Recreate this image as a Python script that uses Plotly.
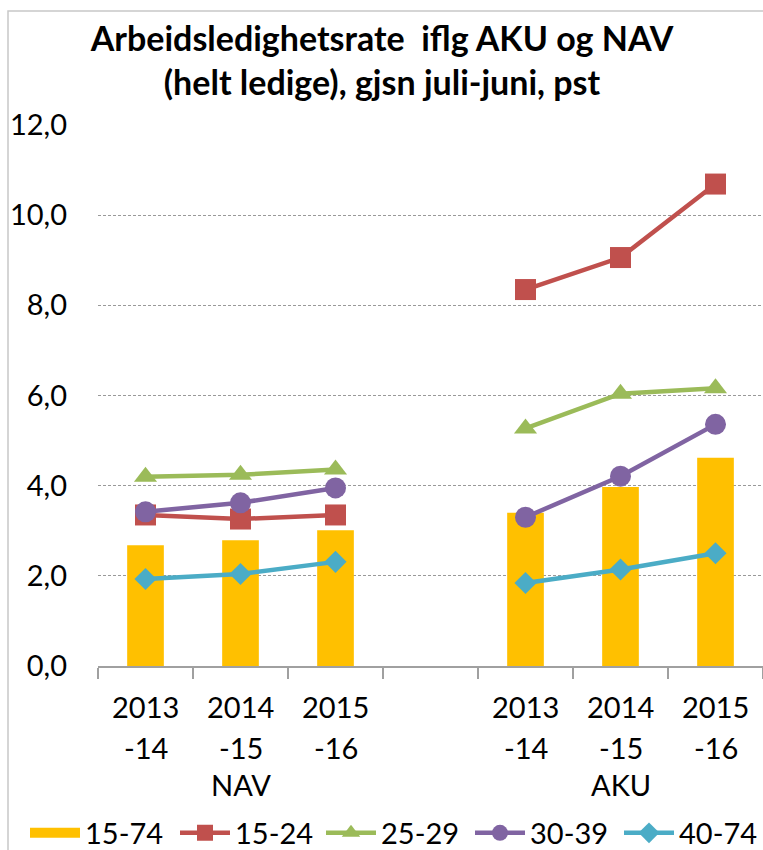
import plotly.graph_objects as go

groups = ["NAV", "", "AKU"]
group_pos = [1, 3, 5]
period_top = ["2013", "2014", "2015", "", "2013", "2014", "2015"]
period_bottom = ["-14", "-15", "-16", "", "-14", "-15", "-16"]

s_15_74 = [2.68, 2.79, 3.01, None, 3.40, 3.97, 4.62]
s_15_24 = [3.35, 3.26, 3.35, None, 8.35, 9.06, 10.69]
s_25_29 = [4.20, 4.24, 4.36, None, 5.27, 6.04, 6.16]
s_30_39 = [3.42, 3.62, 3.95, None, 3.30, 4.21, 5.36]
s_40_74 = [1.93, 2.04, 2.31, None, 1.84, 2.14, 2.50]

y_ticks = [0, 2, 4, 6, 8, 10, 12]
y_ticktext = ["0,0", "2,0", "4,0", "6,0", "8,0", "10,0", "12,0"]

title_text = "Arbeidsledighetsrate  iflg AKU og NAV<br>(helt ledige), gjsn juli-juni, pst"

FONT = "Lato"
W, H = 763, 850
L, R, T, B = 98, 0, 125, 184
PH = H - T - B
PW = W - L - R
BAR_COLOR = "#FFC000"

# legend entry text start (px) for each series, like the original layout
legend_text_x = [88, 238, 384, 533, 682]
LEG_OFFSET = 63

xs = list(range(len(period_top)))

fig = go.Figure()
fig.add_trace(go.Bar(x=xs, y=s_15_74, name="15-74", marker_color=BAR_COLOR,
                     marker_line_width=0, width=0.386, showlegend=False,
                     legendgroup="15-74"))
# legend entry for the bar series (wide rectangle swatch like the original)
fig.add_trace(go.Scatter(x=[None], y=[None], name="15-74", mode="lines",
                         line=dict(color=BAR_COLOR, width=22), legendgroup="15-74",
                         hoverinfo="skip", legend="legend"))

line_specs = [
    ("15-24", s_15_24, "#C0504D", "square", 21),
    ("25-29", s_25_29, "#9BBB59", "triangle-up", 20),
    ("30-39", s_30_39, "#8064A2", "circle", 21),
    ("40-74", s_40_74, "#4BACC6", "diamond", 17),
]
for k, (name, vals, col, sym, sz) in enumerate(line_specs):
    fig.add_trace(go.Scatter(
        x=xs, y=vals, name=name, mode="lines+markers",
        line=dict(color=col, width=4.5),
        marker=dict(symbol=sym, size=sz, color=col),
        connectgaps=False, legend="legend%d" % (k + 2),
    ))

def py2paper(py):
    return (H - B - py) / PH

lab_font = dict(size=29, family=FONT, color="#000000")
annots = []
for i, (t, b) in enumerate(zip(period_top, period_bottom)):
    if t:
        annots.append(dict(x=i, y=py2paper(706), xref="x", yref="paper", text=t,
                           showarrow=False, xanchor="center", yanchor="middle",
                           font=lab_font))
    if b:
        annots.append(dict(x=i, y=py2paper(747), xref="x", yref="paper", text=b,
                           showarrow=False, xanchor="center", yanchor="middle",
                           font=lab_font))
for g, p in zip(groups, group_pos):
    if g:
        annots.append(dict(x=p, y=py2paper(784), xref="x", yref="paper", text=g,
                           showarrow=False, xanchor="center", yanchor="middle",
                           font=lab_font))

def legend_cfg(tx):
    return dict(orientation="h", xref="container", yref="container",
                x=(tx - LEG_OFFSET) / W, xanchor="left",
                y=1 - 833 / H, yanchor="middle",
                font=dict(size=29, family=FONT, color="#000000"),
                itemwidth=50, bgcolor="rgba(0,0,0,0)")

legends = {}
for k, tx in enumerate(legend_text_x):
    key = "legend" if k == 0 else "legend%d" % (k + 1)
    legends[key] = legend_cfg(tx)

fig.update_layout(
    width=W, height=H,
    margin=dict(l=L, r=R, t=T, b=B, autoexpand=False),
    paper_bgcolor="white", plot_bgcolor="white",
    font=dict(family=FONT, size=29, color="#000000"),
    title=dict(text=title_text, x=382 / W, xref="container", xanchor="center",
               y=1 - 51 / H, yref="container", yanchor="middle",
               font=dict(family=FONT, size=34, color="#000000", weight="bold")),
    showlegend=True,
    annotations=annots,
    **legends,
)
fig.update_xaxes(
    range=[-0.5, 6.5], showgrid=False, showline=True, linecolor="#A0A0A0", linewidth=1.5,
    tickmode="array", tickvals=[i - 0.5 for i in range(len(period_top) + 1)],
    ticktext=[""] * (len(period_top) + 1),
    ticks="outside", ticklen=11, tickcolor="#A0A0A0", tickwidth=1.5,
    zeroline=False,
)
fig.update_yaxes(
    range=[0, 12], tickvals=y_ticks, ticktext=y_ticktext,
    showgrid=True, gridcolor="#999999", griddash="3px,2px", gridwidth=1,
    zeroline=False, showline=False, ticks="", ticklabelstandoff=30,
    tickfont=dict(size=29),
)
fig.add_shape(type="rect", xref="paper", yref="paper",
              x0=(8 - L) / PW, x1=1.2, y0=-1, y1=py2paper(11),
              line=dict(color="#C8C8C8", width=1.5), fillcolor="rgba(0,0,0,0)", layer="below")

fig.write_html("out.html", config={"displayModeBar": False},
               post_script="document.body.style.margin='0';document.body.style.overflow='hidden';")
